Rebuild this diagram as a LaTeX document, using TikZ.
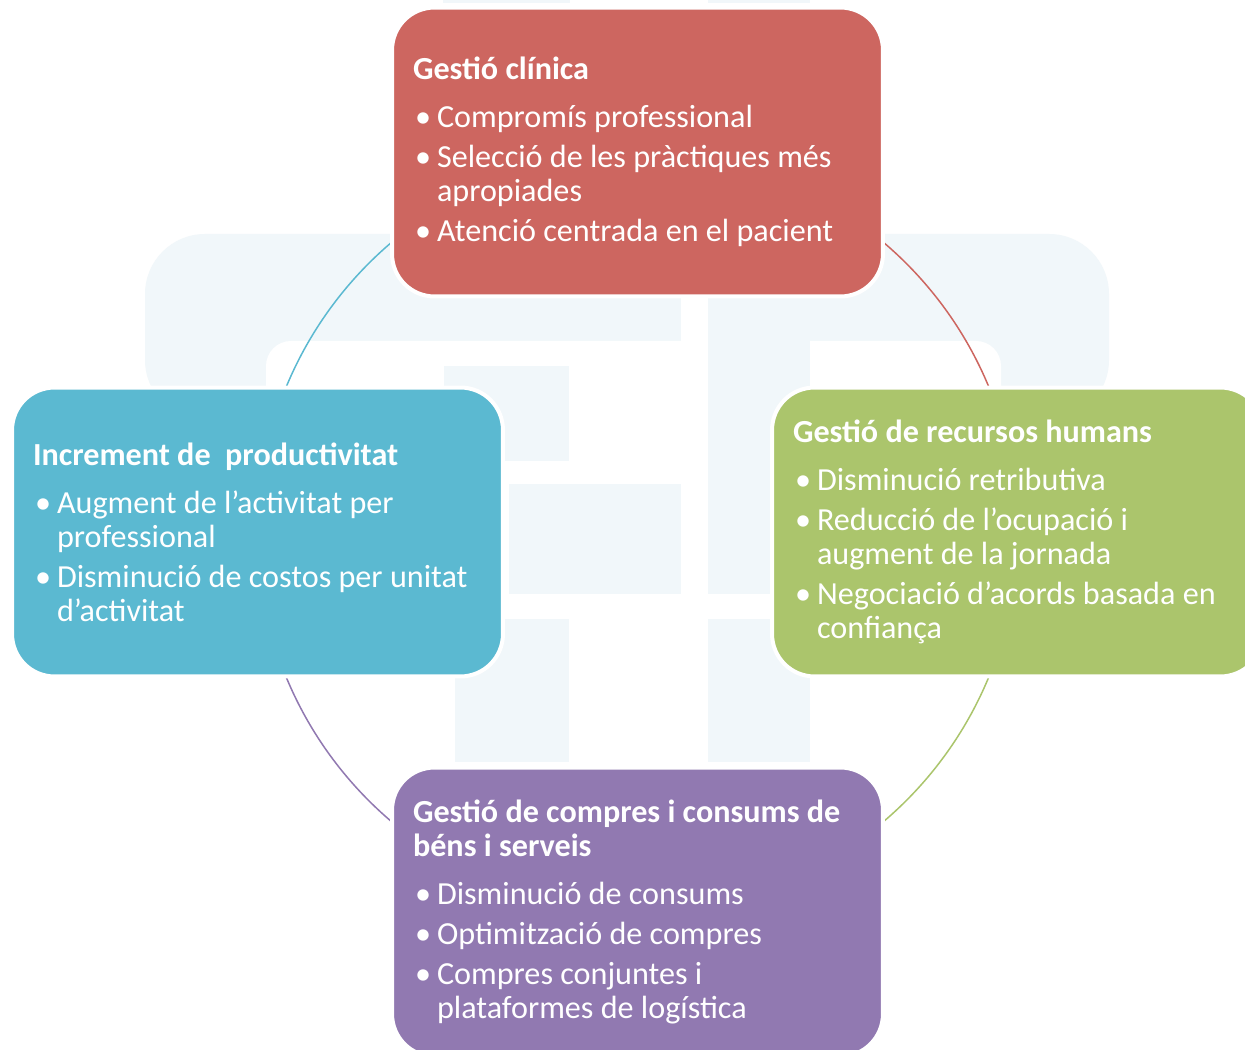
\documentclass[tikz,border=0pt]{standalone}
\usepackage{fontspec}
\setmainfont{Carlito}
\usetikzlibrary{backgrounds}

\definecolor{clinred}{RGB}{205,102,96}
\definecolor{prodblue}{RGB}{91,185,209}
\definecolor{rhgreen}{RGB}{171,197,108}
\definecolor{buypurple}{RGB}{145,121,177}
\definecolor{wmark}{RGB}{241,247,250}

% title line and bullet items of a card
\newcommand{\cardhead}[1]{\spaceskip=0pt\xspaceskip=0pt\noindent\textbf{#1}\par\vspace{0.16cm}}
\newcommand{\cardpt}[1]{\vspace{0.12cm}\hangindent=0.48cm\hangafter=1\noindent
  \makebox[0.48cm][l]{\hspace{0.04cm}\textbullet}#1\par}

\begin{document}
\begin{tikzpicture}[x=0.02cm,y=0.02cm,
    card/.style={rounded corners=0.85cm, draw=white, line width=0.08cm,
      text width=8.98cm, inner xsep=0.42cm, inner ysep=0pt,
      minimum height=5.78cm, align=left, text=white,
      font=\fontsize{18.3pt}{19.4pt}\selectfont},
    ring/.style={line width=0.03cm}]
    \useasboundingbox (0,0) rectangle (1245,-1050);

    \begin{scope}[shift={(637.5,-532)}]
      \node[card, fill=clinred] (clin) at (90:380) {
        \cardhead{Gestió clínica}
        \cardpt{Compromís professional}
        \cardpt{Selecció de les pràctiques més\newline apropiades}
        \cardpt{Atenció centrada en el pacient}};
      \node[card, fill=prodblue] (prod) at (180:380) {
        \cardhead{Increment de\ \ productivitat}
        \cardpt{Augment de l’activitat per\newline professional}
        \cardpt{Disminució de costos per unitat\newline d’activitat}};
      \node[card, fill=rhgreen] (rh) at (0:380) {
        \cardhead{Gestió de recursos humans}
        \cardpt{Disminució retributiva}
        \cardpt{Reducció de l’ocupació i\newline augment de la jornada}
        \cardpt{Negociació d’acords basada en\newline confiança}};
      \node[card, fill=buypurple] (buy) at (270:380) {
        \cardhead{Gestió de compres i consums de\newline béns i serveis}
        \cardpt{Disminució de consums}
        \cardpt{Optimització de compres}
        \cardpt{Compres conjuntes i\newline plataformes de logística}};
    \end{scope}

    \begin{scope}[on background layer]
      \fill[white] (0,0) rectangle (1245,-1050);
      % faint logo behind the cards
      \fill[wmark, rounded corners=1.2cm] (145,-234) rectangle (1109,-420);
      \fill[white, rounded corners=0.5cm] (266,-341) rectangle (1001,-500);
      \fill[white] (681,-225) rectangle (708,-345);
      \fill[wmark] (708,-330) rectangle (810,-594);
      \fill[wmark] (708,-619) rectangle (810,-762);
      \fill[wmark] (444,-366) rectangle (569,-461);
      \fill[wmark] (509,-484) rectangle (681,-594);
      \fill[wmark] (455,-619) rectangle (569,-762);
      \fill[wmark] (443,8) rectangle (570,-3);
      \fill[wmark] (708,8) rectangle (810,-3);

      % ring between the cards
      \draw[ring, prodblue] (clin.center) arc[start angle=90, end angle=180, radius=7.6cm];
      \draw[ring, buypurple] (prod.center) arc[start angle=180, end angle=270, radius=7.6cm];
      \draw[ring, rhgreen] (buy.center) arc[start angle=270, end angle=360, radius=7.6cm];
      \draw[ring, clinred] (rh.center) arc[start angle=0, end angle=90, radius=7.6cm];
    \end{scope}
\end{tikzpicture}
\end{document}
